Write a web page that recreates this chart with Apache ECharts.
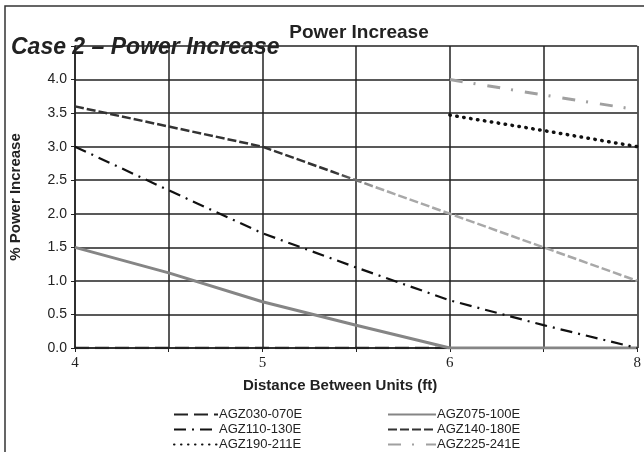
<!DOCTYPE html>
<html>
<head>
<meta charset="utf-8">
<script src="https://cdn.jsdelivr.net/npm/echarts@6/dist/echarts.min.js"></script>
<style>
  html, body { margin: 0; padding: 0; background: #fff; }
  #chart { width: 644px; height: 452px; }
</style>
</head>
<body>
<div id="chart"></div>
<script>
// distance between units (ft)
const categories = ["4", "4.5", "5", "5.5", "6", "7", "8"];
// % power increase per model range
const agz030 = [0, 0, 0, 0, 0, null, null];
const agz075 = [1.5, 1.12, 0.69, 0.34, 0, 0, 0];
const agz110 = [3.0, 2.35, 1.71, 1.2, 0.71, 0.34, 0];
const agz140 = [3.6, 3.3, 3.0, 2.5, 2.0, 1.5, 1.0];
const agz190 = [null, null, null, null, 3.47, 3.24, 3.0];
const agz225 = [null, null, null, null, 4.0, 3.77, 3.55];
const yTicks = [0, 0.5, 1, 1.5, 2, 2.5, 3, 3.5, 4, 4.5];

const font = "Liberation Sans";

function line(name, data, color, width, type, extra) {
  return Object.assign({
    name: name,
    type: "line",
    data: data,
    symbol: "none",
    connectNulls: false,
    lineStyle: { color: color, width: width, type: type },
    itemStyle: { color: color },
  }, extra || {});
}

function legendCol(left, itemWidth, names) {
  return {
    orient: "vertical", left: left, top: 408, height: 80,
    padding: 0,
    itemWidth: itemWidth, itemHeight: 12, itemGap: 2,
    itemStyle: { opacity: 0 },
    textStyle: { fontFamily: font, fontSize: 13, color: "#222", padding: [0, 0, 0, -4] },
    data: names,
  };
}

var myChart = echarts.init(document.getElementById("chart"), null, { renderer: "canvas" });
myChart.setOption({
  backgroundColor: "#fff",
  animation: false,
  title: [
    {
      text: "Power Increase",
      left: 354, top: 18, textAlign: "center",
      textStyle: { fontFamily: font, fontSize: 19, fontWeight: "bold", color: "#222" },
    },
    {
      text: "Case 2 – Power Increase",
      left: 6, top: 31,
      textStyle: { fontFamily: font, fontSize: 23, fontWeight: "bold", fontStyle: "italic", color: "#222" },
    },
  ],
  graphic: [
    {
      type: "rect", silent: true, z: -1,
      shape: { x: 5, y: 6, width: 660, height: 470 },
      style: { fill: "none", stroke: "#333", lineWidth: 1.5 },
    },
  ],
  grid: { left: 73, right: 3, top: 46, bottom: 104 },
  legend: [
    legendCol(173, 44, ["AGZ030-070E", "AGZ110-130E", "AGZ190-211E"]),
    legendCol(387, 48, [
      "AGZ075-100E",
      { name: "AGZ140-180E", lineStyle: { color: "#333" } },
      "AGZ225-241E",
    ]),
  ],
  xAxis: {
    type: "category",
    data: categories,
    boundaryGap: false,
    name: "Distance Between Units (ft)",
    nameLocation: "middle",
    nameGap: 30,
    nameTextStyle: { fontFamily: font, fontSize: 15, fontWeight: "bold", color: "#222", padding: [0, 32, 0, 0] },
    axisLine: { lineStyle: { color: "#222", width: 1.5 } },
    axisTick: { show: true, interval: 0, length: 4, lineStyle: { color: "#222" } },
    axisLabel: {
      interval: 1, margin: 8,
      fontFamily: "Liberation Serif", fontSize: 15, color: "#222",
    },
    splitLine: { show: true, interval: 0, lineStyle: { color: "#222", width: 1.5 } },
  },
  yAxis: {
    type: "value",
    min: yTicks[0],
    max: yTicks[yTicks.length - 1],
    interval: 0.5,
    name: "% Power Increase",
    nameLocation: "middle",
    nameGap: 52,
    nameTextStyle: { fontFamily: font, fontSize: 15, fontWeight: "bold", color: "#222" },
    axisLine: { show: true, lineStyle: { color: "#222", width: 1.5 } },
    axisTick: { show: true, length: 4, lineStyle: { color: "#222" } },
    axisLabel: {
      margin: 8, fontFamily: font, fontSize: 14, color: "#222",
      formatter: (v) => (v >= 4.5 ? "" : v.toFixed(1)),
    },
    splitLine: { show: true, lineStyle: { color: "#222", width: 1.5 } },
  },
  series: [
    line("AGZ030-070E", agz030, "#222", 2.5, [14, 6]),
    line("AGZ075-100E", agz075, "#858585", 3, "solid"),
    line("AGZ110-130E", agz110, "#111", 2.2, [12, 6, 2, 6]),
    line("AGZ140-180E", agz140,
      new echarts.graphic.LinearGradient(0, 0, 1, 0, [
        { offset: 0, color: "#333" },
        { offset: 0.46, color: "#333" },
        { offset: 0.54, color: "#a8a8a8" },
        { offset: 1, color: "#a8a8a8" },
      ]), 2.5, [9, 3]),
    line("AGZ190-211E", agz190, "#111", 3.5, [0.5, 6.5], { lineStyle: { color: "#111", width: 3.5, type: [0.5, 6.5], cap: "round" } }),
    line("AGZ225-241E", agz225, "#a0a0a0", 3, [13, 11, 2, 12]),
  ],
});
</script>
</body>
</html>
